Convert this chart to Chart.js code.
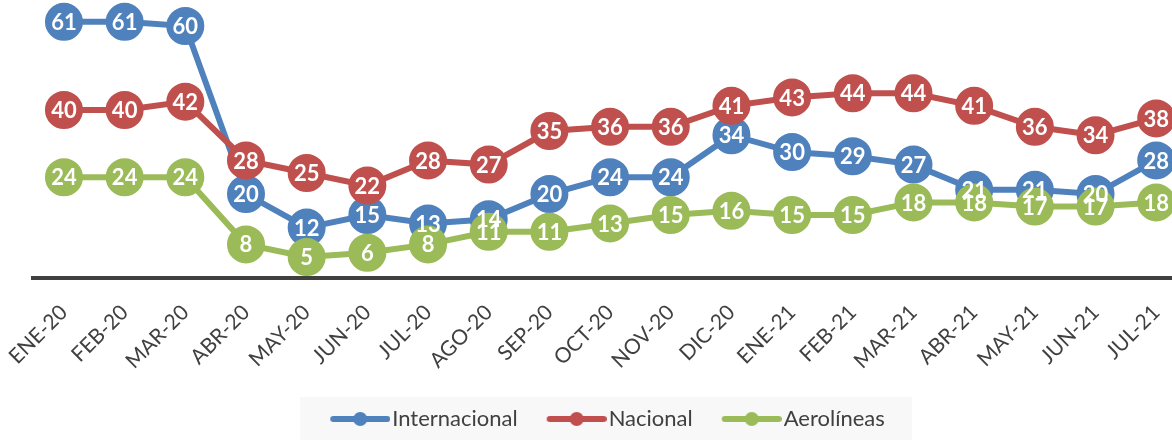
<!DOCTYPE html>
<html>
<head>
<meta charset="utf-8">
<script src="https://cdn.jsdelivr.net/npm/chart.js@4/dist/chart.umd.min.js"></script>
<style>
  html, body { margin: 0; padding: 0; background: #fff; overflow: hidden; }
  #wrap { width: 1172px; height: 440px; position: relative; }
</style>
</head>
<body>
<div id="wrap"><canvas id="chart"></canvas></div>
<script>
const categories = ["ENE-20","FEB-20","MAR-20","ABR-20","MAY-20","JUN-20","JUL-20","AGO-20","SEP-20","OCT-20",
                    "NOV-20","DIC-20","ENE-21","FEB-21","MAR-21","ABR-21","MAY-21","JUN-21","JUL-21"];
const internacional = [61,61,60,20,12,15,13,14,20,24,24,34,30,29,27,21,21,20,28];
const nacional      = [40,40,42,28,25,22,28,27,35,36,36,41,43,44,44,41,36,34,38];
const aerolineas    = [24,24,24,8,5,6,8,11,11,13,15,16,15,15,18,18,17,17,18];
const seriesNames   = ["Internacional","Nacional","Aerolíneas"];
const seriesColors  = ["#4F81BD","#C0504D","#9BBB59"];

const FONT = "Lato, 'Open Sans', sans-serif";
const TEXT = "#404040";

// legend marker: line with a dot (transparent strip on the left for spacing)
function legendMarker(color) {
    const c = document.createElement("canvas");
    c.width = 87; c.height = 16;
    const g = c.getContext("2d");
    g.strokeStyle = color;
    g.lineWidth = 6;
    g.lineCap = "round";
    g.beginPath();
    g.moveTo(30, 8); g.lineTo(84, 8);
    g.stroke();
    g.fillStyle = color;
    g.beginPath();
    g.arc(57, 8, 7, 0, Math.PI * 2);
    g.fill();
    return c;
}

const allSeries = [internacional, nacional, aerolineas];
const datasets = allSeries.map((vals, i) => ({
    label: seriesNames[i],
    data: vals.map((v, k) => ({ x: k, y: v })),
    borderColor: seriesColors[i],
    backgroundColor: seriesColors[i],
    pointBackgroundColor: seriesColors[i],
    pointBorderColor: seriesColors[i],
    borderWidth: 6,
    pointRadius: 16,
    pointHoverRadius: 16,
    tension: 0,
    order: 2 - i
}));

// 🔢 value labels inside the circles (on top of everything, like Excel)
const valueLabels = {
    id: "valueLabels",
    afterDatasetsDraw(chart) {
        const ctx = chart.ctx;
        ctx.save();
        ctx.font = "bold 22px " + FONT;
        ctx.fillStyle = "#fff";
        ctx.textAlign = "center";
        ctx.textBaseline = "middle";
        allSeries.forEach((vals, i) => {
            chart.getDatasetMeta(i).data.forEach((pt, k) => {
                ctx.fillText(String(vals[k]), pt.x, pt.y + 1);
            });
        });
        ctx.restore();
    }
};

// light grey band behind the legend
const legendBand = {
    id: "legendBand",
    afterLayout(chart) {
        chart.legend.left -= 4;
        chart.legend.right -= 4;
    },
    beforeDraw(chart) {
        const lg = chart.legend;
        const boxes = lg.legendHitBoxes;
        if (!boxes || !boxes.length) return;
        const last = boxes[boxes.length - 1];
        const x0 = boxes[0].left + 18 - 30;
        const x1 = last.left + last.width + 27;
        const ctx = chart.ctx;
        ctx.save();
        ctx.fillStyle = "#F8F8F8";
        ctx.fillRect(x0, lg.top, x1 - x0, lg.bottom - lg.top);
        ctx.restore();
    }
};

const ctx = document.getElementById("chart").getContext("2d");
new Chart(ctx, {
    type: "line",
    data: { datasets: datasets },
    options: {
        responsive: true,
        maintainAspectRatio: false,
        animation: false,
        layout: { autoPadding: false, padding: { left: 33, right: 0, top: 0, bottom: 0 } },
        plugins: {
            tooltip: { enabled: false },
            legend: {
                position: "bottom",
                labels: {
                    usePointStyle: true,
                    pointStyleWidth: 69,
                    padding: 11,
                    color: TEXT,
                    font: { family: FONT, size: 22 },
                    generateLabels: () => seriesNames.map((name, i) => ({
                        text: name,
                        pointStyle: legendMarker(seriesColors[i]),
                        fillStyle: seriesColors[i],
                        strokeStyle: seriesColors[i],
                        lineWidth: 0,
                        fontColor: TEXT,
                        hidden: false,
                        datasetIndex: i
                    }))
                }
            }
        },
        scales: {
            x: {
                type: "linear",
                min: -0.51,
                max: 18.26,
                grid: { display: false, drawTicks: false },
                border: { display: true, color: "#404040", width: 4 },
                afterBuildTicks: s => { s.ticks = categories.map((c, i) => ({ value: i })); },
                afterFit: s => {
                    s.height = s.chart.height - 278 - s.chart.legend.height;
                    s.paddingLeft = 0;
                    s.paddingRight = 0;
                },
                ticks: {
                    autoSkip: false,
                    minRotation: 45,
                    maxRotation: 45,
                    padding: 22,
                    color: TEXT,
                    font: { family: FONT, size: 21 },
                    callback: v => categories[v] ?? ""
                }
            },
            y: {
                display: false,
                min: 0,
                max: 66.2
            }
        }
    },
    plugins: [legendBand, valueLabels]
});
</script>
</body>
</html>
